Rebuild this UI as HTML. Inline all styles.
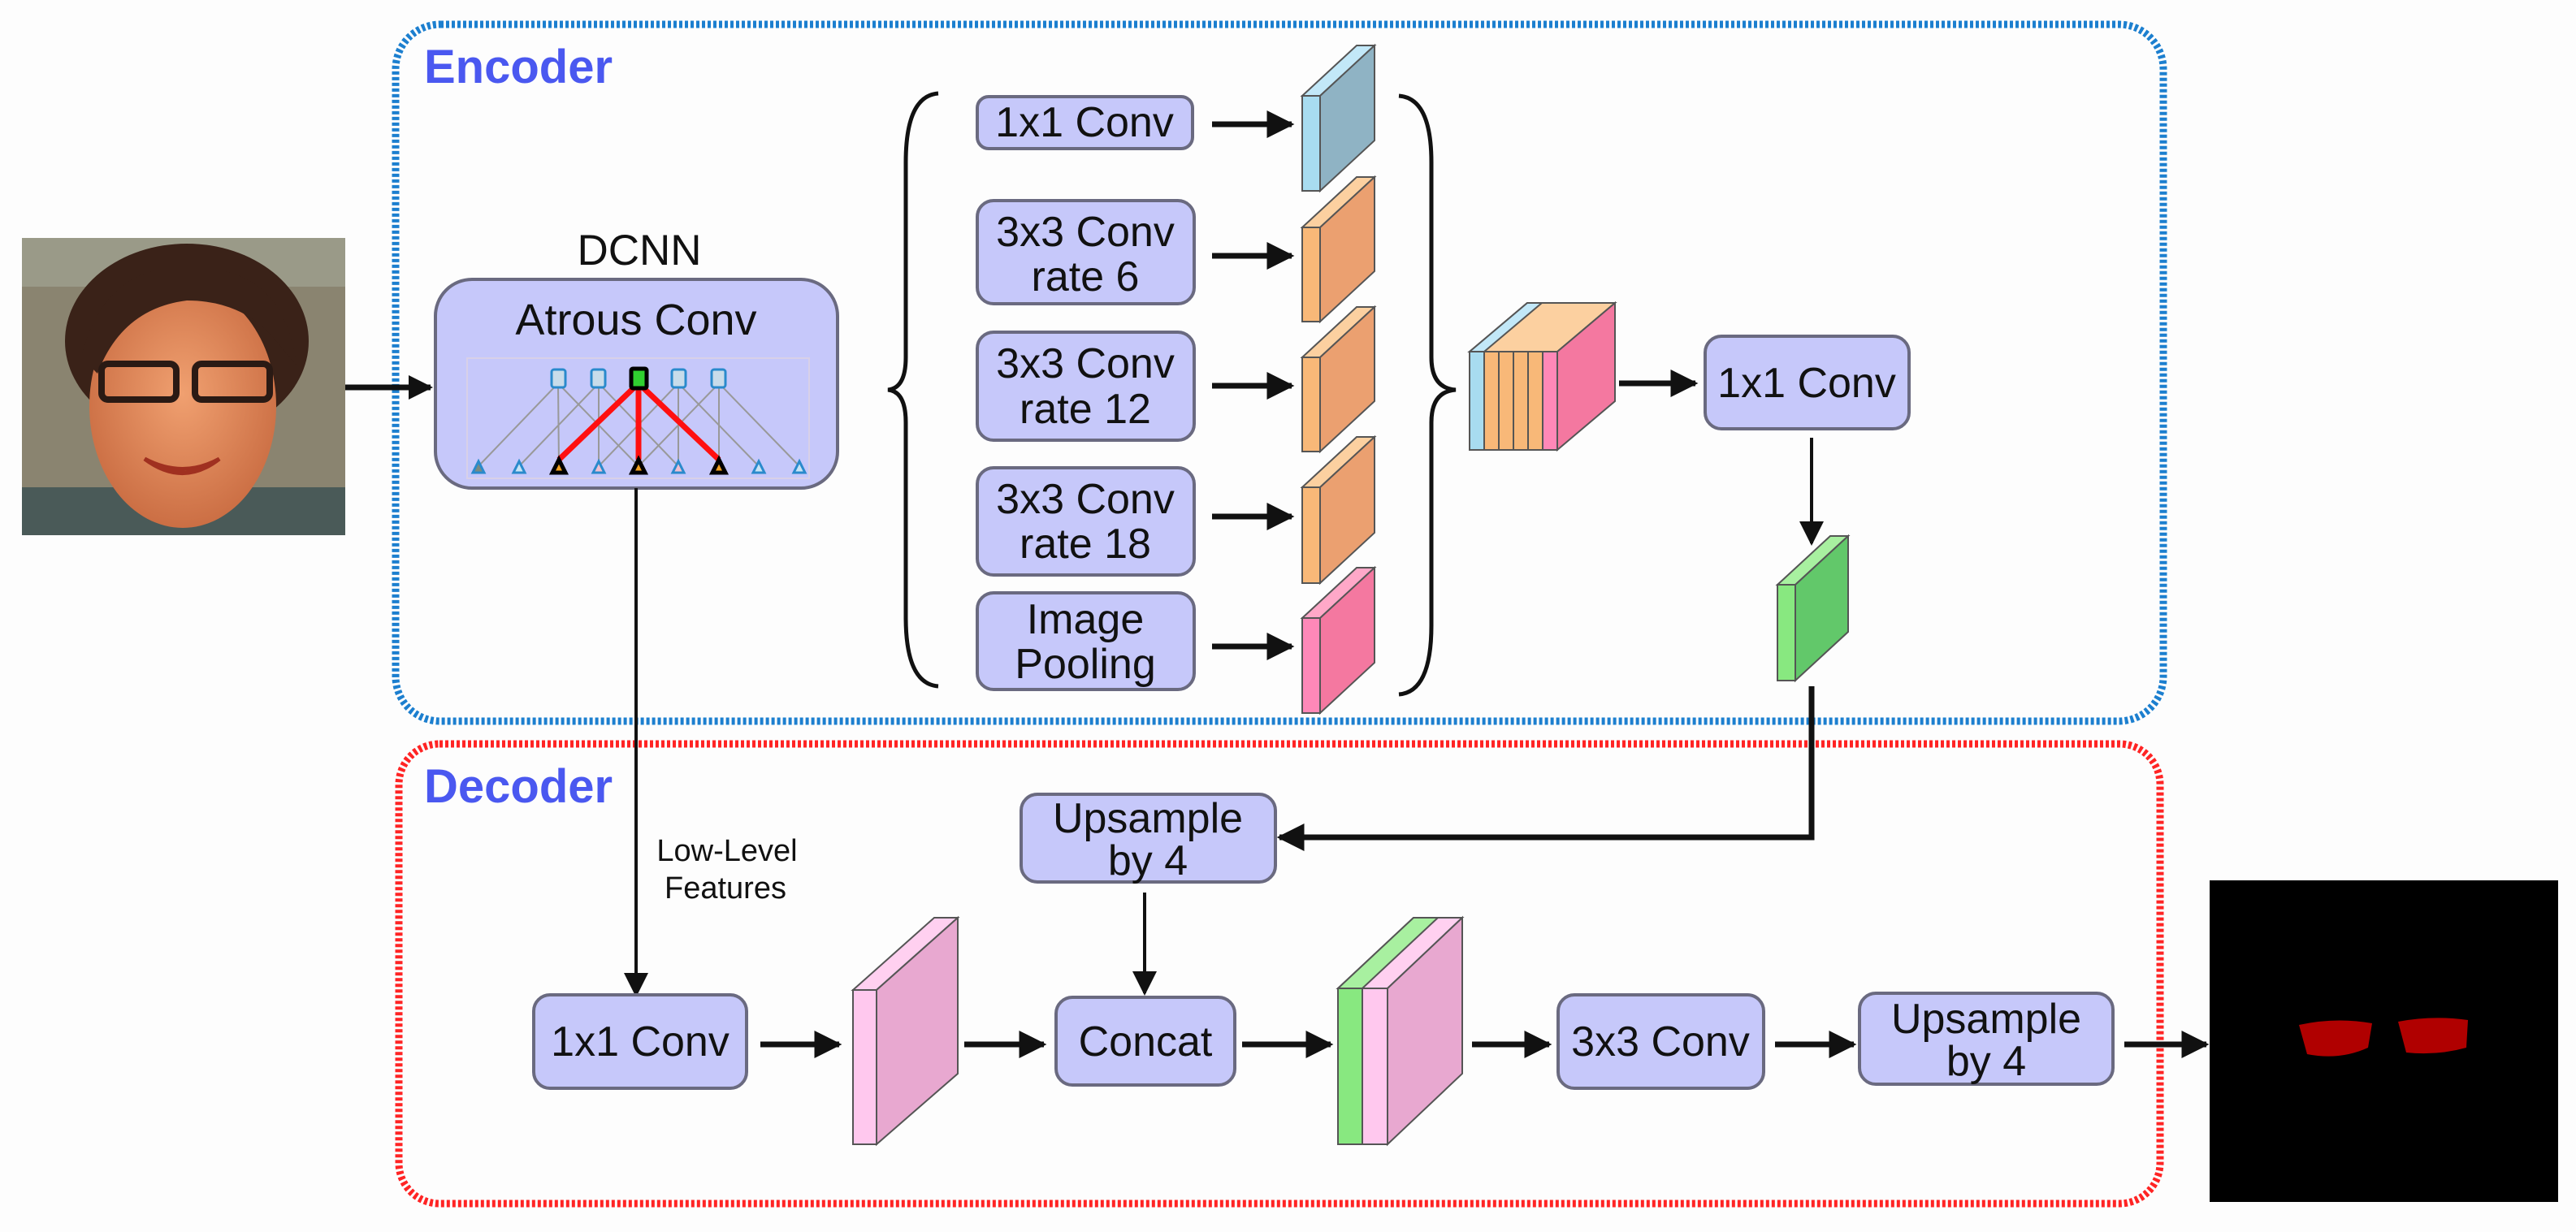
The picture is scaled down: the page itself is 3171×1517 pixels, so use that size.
<!DOCTYPE html>
<html><head><meta charset="utf-8"><style>
html,body{margin:0;padding:0;background:#fdfdfd;}
svg{display:block;}
text{font-family:"Liberation Sans",sans-serif;fill:#111;}
.b{fill:#c6c8fa;stroke:#6a6a80;stroke-width:4;}
.t{font-size:52px;text-anchor:middle;}
.ar{stroke:#111;stroke-width:7;fill:none;}
.th{stroke:#111;stroke-width:4;fill:none;}
</style></head><body>
<svg width="3171" height="1517" viewBox="0 0 3171 1517" xmlns="http://www.w3.org/2000/svg">
<defs>
<marker id="ah" markerWidth="10" markerHeight="10" refX="8" refY="5" orient="auto" markerUnits="userSpaceOnUse" viewBox="0 0 10 10"><path d="M0,0 L10,5 L0,10 z" fill="#111"/></marker>
<marker id="a2" viewBox="0 0 10 10" refX="9" refY="5" markerWidth="30" markerHeight="30" orient="auto" markerUnits="userSpaceOnUse"><path d="M0,0 L10,5 L0,10 z" fill="#111"/></marker>
<marker id="a3" viewBox="0 0 10 10" refX="9" refY="5" markerWidth="34" markerHeight="34" orient="auto" markerUnits="userSpaceOnUse"><path d="M0,0 L10,5 L0,10 z" fill="#111"/></marker>
<radialGradient id="skin" cx="0.5" cy="0.45" r="0.6"><stop offset="0" stop-color="#f0a070"/><stop offset="1" stop-color="#c86a40"/></radialGradient>
</defs>

<!-- frames -->
<rect x="487" y="30" width="2176" height="858" rx="55" fill="none" stroke="#1c7fcf" stroke-width="9" stroke-dasharray="4 3"/>
<rect x="491" y="916" width="2168" height="566" rx="50" fill="none" stroke="#ff2424" stroke-width="9" stroke-dasharray="4 3"/>
<text x="522" y="102" style="font-size:58px;font-weight:bold;fill:#4a58f0">Encoder</text>
<text x="522" y="988" style="font-size:58px;font-weight:bold;fill:#4a58f0">Decoder</text>

<!-- photo -->
<g>
<rect x="27" y="293" width="398" height="366" fill="#8a8470"/>
<rect x="27" y="293" width="398" height="60" fill="#9a9a88"/>
<rect x="27" y="600" width="398" height="59" fill="#4a5a58"/>
<ellipse cx="230" cy="420" rx="150" ry="120" fill="#3a2218"/>
<ellipse cx="225" cy="500" rx="115" ry="150" fill="url(#skin)"/>
<path d="M100 440 Q130 320 240 330 Q350 330 365 450 L340 420 Q300 370 230 370 Q150 380 120 460 Z" fill="#3a2218"/>
<rect x="125" y="448" width="92" height="44" rx="8" fill="none" stroke="#2a1a14" stroke-width="8"/>
<rect x="240" y="448" width="92" height="44" rx="8" fill="none" stroke="#2a1a14" stroke-width="8"/>
<path d="M178 565 Q225 590 270 565 Q225 600 178 565 Z" fill="#c8b040" stroke="#a03020" stroke-width="5"/>
</g>
<line x1="425" y1="477" x2="530" y2="477" class="ar" marker-end="url(#a2)"/>

<!-- DCNN -->
<text x="787" y="326" class="t" style="font-size:53px">DCNN</text>
<rect x="536" y="344" width="495" height="257" rx="45" class="b"/>
<text x="783" y="412" class="t" style="font-size:54px">Atrous Conv</text>
<rect x="575" y="441" width="421" height="148" fill="none" stroke="#d8d0e8" stroke-width="2"/>
<g stroke="#999" stroke-width="2">
<line x1="589" y1="574" x2="687" y2="472"/><line x1="688" y1="574" x2="687" y2="472"/><line x1="786" y1="574" x2="687" y2="472"/>
<line x1="639" y1="574" x2="737" y2="472"/><line x1="737" y1="574" x2="737" y2="472"/><line x1="835" y1="574" x2="737" y2="472"/>
<line x1="737" y1="574" x2="835" y2="472"/><line x1="835" y1="574" x2="835" y2="472"/><line x1="934" y1="574" x2="835" y2="472"/>
<line x1="786" y1="574" x2="885" y2="472"/><line x1="885" y1="574" x2="885" y2="472"/><line x1="984" y1="574" x2="885" y2="472"/>
</g>
<g stroke="#ff1010" stroke-width="7"><line x1="688" y1="566" x2="786" y2="472"/><line x1="786" y1="566" x2="786" y2="472"/><line x1="885" y1="566" x2="786" y2="472"/></g>
<g fill="#c8dcea" stroke="#2a8acc" stroke-width="3">
<rect x="679" y="455" width="17" height="22" rx="3"/><rect x="728" y="455" width="17" height="22" rx="3"/><rect x="827" y="455" width="17" height="22" rx="3"/><rect x="876" y="455" width="17" height="22" rx="3"/>
</g>
<rect x="777" y="454" width="19" height="24" rx="2" fill="#30d030" stroke="#000" stroke-width="5"/>
<g fill="#c8e4f4" stroke="#2a8acc" stroke-width="3">
<path d="M589 568 l-7 14 h14z" fill="#7a8a80"/><path d="M639 568 l-7 14 h14z"/><path d="M737 568 l-7 14 h14z" fill="#f0c0d0"/><path d="M835 568 l-7 14 h14z" fill="#f0c0d0"/><path d="M934 568 l-7 14 h14z"/><path d="M984 568 l-7 14 h14z"/>
</g>
<g fill="#f0a020" stroke="#000" stroke-width="5">
<path d="M688 566 l-8 16 h16z"/><path d="M786 566 l-8 16 h16z"/><path d="M885 566 l-8 16 h16z"/>
</g>

<!-- low-level line -->
<line x1="783" y1="601" x2="783" y2="1225" class="th" marker-end="url(#a2)"/>
<text x="895" y="1060" class="t" style="font-size:38px">Low-Level</text>
<text x="893" y="1106" class="t" style="font-size:38px">Features</text>

<!-- braces -->
<path d="M1155 115 Q1115 118 1115 200 L1115 440 Q1115 478 1093 480 Q1115 482 1115 520 L1115 760 Q1115 842 1155 845" fill="none" stroke="#111" stroke-width="5"/>
<path d="M1722 118 Q1762 121 1762 200 L1762 440 Q1762 478 1792 480 Q1762 482 1762 520 L1762 770 Q1762 852 1722 855" fill="none" stroke="#111" stroke-width="5"/>

<!-- ASPP boxes -->
<rect x="1203" y="119" width="265" height="64" rx="14" class="b"/>
<text x="1335" y="168" class="t">1x1 Conv</text>
<rect x="1203" y="247" width="267" height="127" rx="20" class="b"/>
<text x="1336" y="303" class="t">3x3 Conv</text><text x="1336" y="358" class="t">rate 6</text>
<rect x="1203" y="409" width="267" height="133" rx="20" class="b"/>
<text x="1336" y="465" class="t">3x3 Conv</text><text x="1336" y="521" class="t">rate 12</text>
<rect x="1203" y="576" width="267" height="132" rx="20" class="b"/>
<text x="1336" y="632" class="t">3x3 Conv</text><text x="1336" y="687" class="t">rate 18</text>
<rect x="1203" y="730" width="267" height="119" rx="20" class="b"/>
<text x="1336" y="780" class="t">Image</text><text x="1336" y="835" class="t">Pooling</text>
<g class="ar">
<line x1="1492" y1="153" x2="1590" y2="153" marker-end="url(#a3)"/>
<line x1="1492" y1="315" x2="1590" y2="315" marker-end="url(#a3)"/>
<line x1="1492" y1="475" x2="1590" y2="475" marker-end="url(#a3)"/>
<line x1="1492" y1="636" x2="1590" y2="636" marker-end="url(#a3)"/>
<line x1="1492" y1="796" x2="1590" y2="796" marker-end="url(#a3)"/>
</g>

<!-- slabs -->
<g stroke="#555" stroke-width="2">
<g><path d="M1603 118 L1670 56 L1692 56 L1625 118Z" fill="#c2e8f8"/><path d="M1625 118 L1692 56 L1692 173 L1625 235Z" fill="#8fb3c4"/><rect x="1603" y="118" width="22" height="117" fill="#a8dcf0"/></g>
<g><path d="M1603 280 L1670 218 L1692 218 L1625 280Z" fill="#fcd0a0"/><path d="M1625 280 L1692 218 L1692 334 L1625 396Z" fill="#eba070"/><rect x="1603" y="280" width="22" height="116" fill="#f8b878"/></g>
<g><path d="M1603 440 L1670 378 L1692 378 L1625 440Z" fill="#fcd0a0"/><path d="M1625 440 L1692 378 L1692 494 L1625 556Z" fill="#eba070"/><rect x="1603" y="440" width="22" height="116" fill="#f8b878"/></g>
<g><path d="M1603 600 L1670 538 L1692 538 L1625 600Z" fill="#fcd0a0"/><path d="M1625 600 L1692 538 L1692 656 L1625 718Z" fill="#eba070"/><rect x="1603" y="600" width="22" height="118" fill="#f8b878"/></g>
<g><path d="M1603 761 L1670 699 L1692 699 L1625 761Z" fill="#ffa8c8"/><path d="M1625 761 L1692 699 L1692 816 L1625 878Z" fill="#f478a0"/><rect x="1603" y="761" width="22" height="117" fill="#ff88b8"/></g>
</g>

<!-- concat stack -->
<g stroke="#555" stroke-width="2">
<path d="M1809 433 L1880 373 L1988 373 L1917 433Z" fill="#fcd0a0"/>
<path d="M1917 433 L1988 373 L1988 494 L1917 554Z" fill="#f478a0"/>
<rect x="1809" y="433" width="18" height="121" fill="#a8dcf0"/>
<rect x="1827" y="433" width="18" height="121" fill="#f8b878"/>
<rect x="1845" y="433" width="18" height="121" fill="#f8b878"/>
<rect x="1863" y="433" width="18" height="121" fill="#f8b878"/>
<rect x="1881" y="433" width="18" height="121" fill="#f8b878"/>
<rect x="1899" y="433" width="18" height="121" fill="#ff88b8"/>
<path d="M1809 433 L1880 373 L1898 373 L1827 433Z" fill="#c2e8f8"/>
</g>
<line x1="1993" y1="472" x2="2087" y2="472" class="ar" marker-end="url(#a3)"/>
<rect x="2099" y="414" width="251" height="114" rx="20" class="b"/>
<text x="2224" y="489" class="t">1x1 Conv</text>
<line x1="2230" y1="539" x2="2230" y2="669" class="th" marker-end="url(#a2)"/>
<g stroke="#555" stroke-width="2"><path d="M2188 720 L2253 660 L2275 660 L2210 720Z" fill="#a8f0a0"/><path d="M2210 720 L2275 660 L2275 778 L2210 838Z" fill="#62c86a"/><rect x="2188" y="720" width="22" height="118" fill="#88e880"/></g>
<polyline points="2230,845 2230,1031 1575,1031" class="ar" marker-end="url(#a3)"/>

<!-- decoder -->
<rect x="1257" y="978" width="313" height="108" rx="20" class="b"/>
<text x="1413" y="1025" class="t">Upsample</text><text x="1413" y="1077" class="t">by 4</text>
<line x1="1409" y1="1099" x2="1409" y2="1223" class="th" marker-end="url(#a2)"/>
<rect x="657" y="1225" width="262" height="115" rx="20" class="b"/>
<text x="788" y="1300" class="t">1x1 Conv</text>
<line x1="936" y1="1286" x2="1033" y2="1286" class="ar" marker-end="url(#a3)"/>
<g stroke="#555" stroke-width="2"><path d="M1050 1219 L1150 1130 L1179 1130 L1079 1219Z" fill="#ffd0f0"/><path d="M1079 1219 L1179 1130 L1179 1322 L1079 1409Z" fill="#e8a8d0"/><rect x="1050" y="1219" width="29" height="190" fill="#ffc8ee"/></g>
<line x1="1187" y1="1286" x2="1285" y2="1286" class="ar" marker-end="url(#a3)"/>
<rect x="1300" y="1228" width="220" height="108" rx="20" class="b"/>
<text x="1410" y="1300" class="t">Concat</text>
<line x1="1529" y1="1286" x2="1638" y2="1286" class="ar" marker-end="url(#a3)"/>
<g stroke="#555" stroke-width="2"><path d="M1647 1217 L1740 1130 L1800 1130 L1708 1217Z" fill="#ffd0f0"/><path d="M1708 1217 L1800 1130 L1800 1322 L1708 1409Z" fill="#e8a8d0"/><rect x="1647" y="1217" width="30" height="192" fill="#88e880"/><rect x="1677" y="1217" width="31" height="192" fill="#ffc8ee"/><path d="M1647 1217 L1740 1130 L1770 1130 L1677 1217Z" fill="#a8f0a0"/></g>
<line x1="1812" y1="1286" x2="1907" y2="1286" class="ar" marker-end="url(#a3)"/>
<rect x="1918" y="1225" width="253" height="115" rx="20" class="b"/>
<text x="2044" y="1300" class="t">3x3 Conv</text>
<line x1="2185" y1="1286" x2="2282" y2="1286" class="ar" marker-end="url(#a3)"/>
<rect x="2289" y="1223" width="312" height="112" rx="20" class="b"/>
<text x="2445" y="1272" class="t">Upsample</text><text x="2445" y="1324" class="t">by 4</text>
<line x1="2615" y1="1286" x2="2716" y2="1286" class="ar" marker-end="url(#a3)"/>
<rect x="2720" y="1084" width="429" height="396" fill="#000"/>
<path d="M2830 1262 Q2875 1252 2920 1260 L2915 1290 Q2880 1306 2840 1298 Z" fill="#b00000"/>
<path d="M2952 1258 Q2995 1250 3038 1256 L3036 1290 Q3000 1300 2962 1296 Z" fill="#b00000"/>
</svg>
</body></html>
